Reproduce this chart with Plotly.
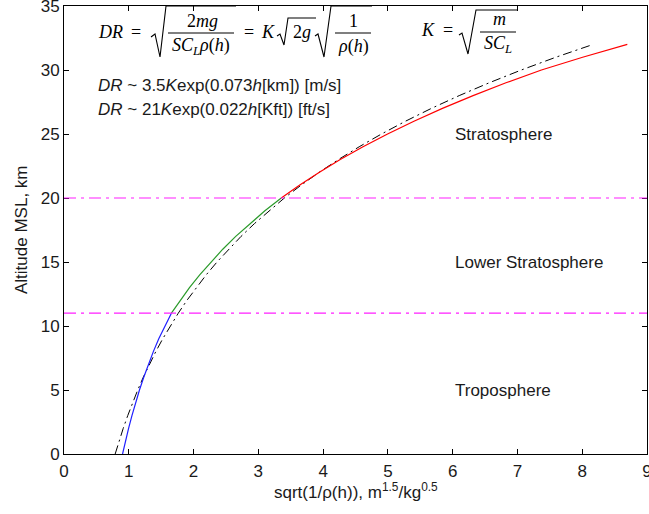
import plotly.graph_objects as go

# Altitude (km) and sqrt(1/rho) for the standard atmosphere, m^1.5/kg^0.5
alt_km = list(range(0, 33))
sqrt_inv_rho = [0.904, 0.948, 0.997, 1.049, 1.105, 1.165, 1.231, 1.302, 1.379, 1.463,
                1.555, 1.658, 1.791, 1.937, 2.095, 2.266, 2.451, 2.651, 2.868, 3.101,
                3.354, 3.634, 3.937, 4.264, 4.616, 4.995, 5.402, 5.842, 6.315, 6.823,
                7.370, 8.006, 8.696]

# Exponential approximation DR ~ 3.5 K exp(0.073 h), expressed as sqrt(1/rho)
fit_sqrt_inv_rho = [0.790, 0.850, 0.914, 0.984, 1.058, 1.138, 1.224, 1.317, 1.417, 1.524,
                    1.640, 1.764, 1.897, 2.041, 2.196, 2.362, 2.541, 2.733, 2.940, 3.163,
                    3.402, 3.660, 3.937, 4.235, 4.556, 4.901, 5.272, 5.671, 6.101, 6.563,
                    7.060, 7.594, 8.169]

# Layer boundaries (km) and region labels
tropopause_km = 11
strat_base_km = 20
region_names = ["Stratosphere", "Lower Stratosphere", "Troposphere"]
region_alt = [25, 15, 5]
region_x = 6

x_ticks = list(range(0, 10))
y_ticks = list(range(0, 36, 5))

W, H = 649, 514
L, R, T, B = 64, 647, 6, 454

def px(x):
    return (x - L) / (R - L)

def py(y):
    return (B - y) / (B - T)

fig = go.Figure()

# Exponential fit (dash-dot black)
fig.add_trace(go.Scatter(x=fit_sqrt_inv_rho, y=alt_km, mode="lines",
                         line=dict(color="black", width=1, dash="9px,4px,2px,4px")))

segments = [
    (0, tropopause_km, "#1f1fff"),
    (tropopause_km, strat_base_km, "#2a9a2a"),
    (strat_base_km, alt_km[-1], "#ff0000"),
]
for lo, hi, col in segments:
    idx = [i for i, h in enumerate(alt_km) if lo <= h <= hi]
    fig.add_trace(go.Scatter(x=[sqrt_inv_rho[i] for i in idx],
                             y=[alt_km[i] for i in idx],
                             mode="lines", line=dict(color=col, width=1.2)))

# Layer boundaries
for h in (tropopause_km, strat_base_km):
    fig.add_shape(type="line", xref="paper", yref="y", x0=0, x1=1, y0=h, y1=h,
                  line=dict(color="#ff1fff", width=1.2, dash="12px,5px,3px,5px"))

annotations = []
for name, h in zip(region_names, region_alt):
    annotations.append(dict(x=region_x, y=h, xref="x", yref="y", text=name,
                            showarrow=False, xanchor="left", yanchor="middle",
                            font=dict(family="Liberation Sans", size=17, color="#1a1a1a")))

math_font = dict(family="Liberation Serif", size=18, color="black")

def put(text, x, y, font=math_font, anchor="center"):
    annotations.append(dict(x=px(x), y=py(y), xref="paper", yref="paper", text=text,
                            showarrow=False, xanchor=anchor, yanchor="middle", font=font))

# DR = sqrt(2mg / (S C_L rho(h))) = K sqrt(2g) sqrt(1/rho(h))
put("<i>DR</i>", 110, 32)
put("=", 136, 32)
put("2<i>mg</i>", 202, 21)
put("<i>SC<sub>L</sub>ρ</i>(<i>h</i>)", 201, 46)
put("=", 249, 32)
put("<i>K</i>", 268, 32)
put("2<i>g</i>", 302, 32)
put("1", 353, 21)
put("<i>ρ</i>(<i>h</i>)", 353, 46)
# K = sqrt(m / (S C_L))
put("<i>K</i>", 428, 30)
put("=", 448, 30)
put("<i>m</i>", 499, 19)
put("<i>SC<sub>L</sub></i>", 498, 44)

def path(points):
    d = "M " + " L ".join(f"{px(x):.5f},{py(y):.5f}" for x, y in points)
    fig.add_shape(type="path", path=d, xref="paper", yref="paper",
                  line=dict(color="black", width=1.1))

path([(151, 37), (155, 34), (160, 57), (166, 6), (236, 6)])
path([(168, 33), (234, 33)])
path([(277, 36), (280, 34), (284, 45), (288, 18), (316, 18)])
path([(315, 36), (318, 34), (324, 57), (331, 6), (372, 6)])
path([(335, 33), (371, 33)])
path([(459, 35), (462, 33), (468, 54), (476, 10), (517, 10)])
path([(480, 32), (516, 32)])

text_font = dict(family="Liberation Sans", size=17, color="#1a1a1a")
put("<i>DR</i> ~ 3.5<i>K</i>exp(0.073<i>h</i>[km]) [m/s]", 96, 85, text_font, "left")
put("<i>DR</i> ~ 21<i>K</i>exp(0.022<i>h</i>[Kft]) [ft/s]", 96, 109, text_font, "left")

# Axis titles
title_font = dict(family="Liberation Sans", size=17, color="#1a1a1a")
put("sqrt(1/ρ(h)), m<sup>1.5</sup>/kg<sup>0.5</sup>", (L + R) / 2, 491, title_font)
annotations.append(dict(x=px(21), y=0.5, xref="paper", yref="paper",
                        text="Altitude MSL, km", textangle=-90, showarrow=False,
                        xanchor="center", yanchor="middle", font=title_font))

axis_common = dict(showline=True, linecolor="black", linewidth=1, mirror="ticks",
                   ticks="inside", ticklen=5, tickcolor="black", showgrid=False,
                   zeroline=False, ticklabeloverflow="allow", automargin=False,
                   tickfont=dict(family="Liberation Sans", size=17, color="#1a1a1a"))

fig.update_layout(
    width=W, height=H,
    margin=dict(l=L, r=W - R, t=T, b=H - B, autoexpand=False),
    paper_bgcolor="white", plot_bgcolor="white",
    showlegend=False,
    annotations=annotations,
    xaxis=dict(range=[0, 9], tickvals=x_ticks, ticklabelstandoff=2, **axis_common),
    yaxis=dict(range=[0, 35], tickvals=y_ticks, **axis_common),
)

fig.write_html("out.html")
